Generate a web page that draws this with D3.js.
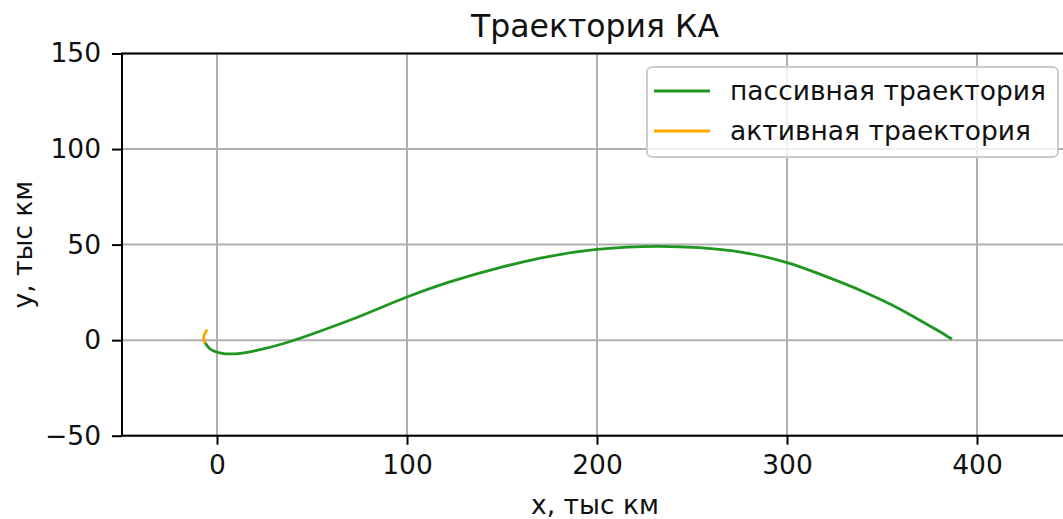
<!DOCTYPE html>
<html>
<head>
<meta charset="utf-8">
<script src="https://cdn.jsdelivr.net/npm/d3@7"></script>
<style>
  body { margin: 0; background: #fff; }
  svg { display: block; font-family: "DejaVu Sans", sans-serif; }
</style>
</head>
<body>
<svg id="chart" width="1063" height="519"></svg>
<script>
// values, thousands of km
const passiveX = [-6.5, -3.8, 1.4, 9.3, 19.8, 34.7, 69.8, 100, 122.5, 148.8, 175.1, 200, 233, 271.6, 300, 320, 340, 355, 368, 378, 383.5, 386.2];
const passiveY = [-1.0, -4.5, -6.6, -7.2, -5.6, -1.9, 10.4, 22.6, 30.5, 38, 43.9, 47.5, 49.1, 46.7, 40.6, 33.5, 25.5, 18.5, 11.5, 5.8, 2.6, 0.9];
const activeX = [-5.6, -6.7, -7.0, -6.5];
const activeY = [4.9, 2.6, 1.0, -1.0];

const xTicks = [0, 100, 200, 300, 400];
const yTicks = [-50, 0, 50, 100, 150];
const seriesNames = ['пассивная траектория', 'активная траектория'];
const seriesColors = ['#1f961f', '#ffa500'];

const svg = d3.select('#chart');
const m = {left: 122, right: 1072, top: 53.5, bottom: 435.7};
const fs = 26.5;

const x = d3.scaleLinear().domain([-50, 450]).range([m.left, m.right]);
const y = d3.scaleLinear().domain([-50, 150]).range([m.bottom, m.top]);

const fmt = v => (v < 0 ? '\u2212' + Math.abs(v) : String(v));

// grid
svg.append('g').selectAll('line').data(xTicks).join('line')
    .attr('x1', d => x(d)).attr('x2', d => x(d))
    .attr('y1', m.top).attr('y2', m.bottom)
    .attr('stroke', '#b0b0b0').attr('stroke-width', 2);
svg.append('g').selectAll('line').data(yTicks).join('line')
    .attr('x1', m.left).attr('x2', m.right)
    .attr('y1', d => y(d)).attr('y2', d => y(d))
    .attr('stroke', '#b0b0b0').attr('stroke-width', 2);

// curves
const line = d3.line().x(d => x(d[0])).y(d => y(d[1])).curve(d3.curveCatmullRom);
svg.append('path')
    .datum(d3.zip(passiveX, passiveY))
    .attr('d', line)
    .attr('fill', 'none').attr('stroke', seriesColors[0]).attr('stroke-width', 2.8)
    .attr('stroke-linecap', 'square');
svg.append('path')
    .datum(d3.zip(activeX, activeY))
    .attr('d', line)
    .attr('fill', 'none').attr('stroke', seriesColors[1]).attr('stroke-width', 2.8)
    .attr('stroke-linecap', 'square');

// axes
const xAxis = svg.append('g')
    .attr('transform', `translate(0,${m.bottom})`)
    .call(d3.axisBottom(x).tickValues(xTicks).tickFormat(fmt).tickSize(9).tickPadding(10.5));
const yAxis = svg.append('g')
    .attr('transform', `translate(${m.left},0)`)
    .call(d3.axisLeft(y).tickValues(yTicks).tickFormat(fmt).tickSize(10).tickPadding(11));
[xAxis, yAxis].forEach(a => {
    a.select('.domain').remove();
    a.selectAll('.tick line').attr('stroke', '#000').attr('stroke-width', 2);
    a.selectAll('.tick text').attr('fill', '#111').style('font-size', fs + 'px')
        .style('font-family', '"DejaVu Sans", sans-serif');
});

// spines (right one is outside the picture)
svg.append('rect')
    .attr('x', m.left).attr('y', m.top)
    .attr('width', m.right - m.left).attr('height', m.bottom - m.top)
    .attr('fill', 'none').attr('stroke', '#000').attr('stroke-width', 2);

// labels
svg.append('text')
    .attr('x', 595).attr('y', 37)
    .attr('text-anchor', 'middle')
    .style('font-size', '31.5px').attr('fill', '#111')
    .text('Траектория КА');
svg.append('text')
    .attr('x', 595).attr('y', 514)
    .attr('text-anchor', 'middle')
    .style('font-size', fs + 'px').attr('fill', '#111')
    .text('x, тыс км');
svg.append('text')
    .attr('transform', `translate(32,${(m.top + m.bottom) / 2}) rotate(-90)`)
    .attr('text-anchor', 'middle')
    .style('font-size', fs + 'px').attr('fill', '#111')
    .text('y, тыс км');

// legend
const lg = svg.append('g');
lg.append('rect')
    .attr('x', 647).attr('y', 67).attr('width', 411).attr('height', 90)
    .attr('rx', 5).attr('ry', 5)
    .attr('fill', 'rgba(255,255,255,0.8)').attr('stroke', '#cccccc').attr('stroke-width', 2);
seriesNames.forEach((name, i) => {
    const cy = 91 + i * 40;
    lg.append('line')
        .attr('x1', 654).attr('x2', 710).attr('y1', cy).attr('y2', cy)
        .attr('stroke', seriesColors[i]).attr('stroke-width', 2.8);
    lg.append('text')
        .attr('x', 730).attr('y', cy + 8.5)
        .style('font-size', fs + 'px').attr('fill', '#111')
        .text(name);
});
</script>
</body>
</html>
